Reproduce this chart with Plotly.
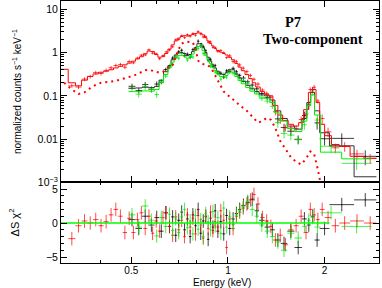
import math
import plotly.graph_objects as go

# ---------------- data ----------------
# EPIC-pn (red)
pn_edges = [0.300, 0.318, 0.335, 0.350, 0.365, 0.380, 0.395, 0.410, 0.425, 0.440, 0.455, 0.470, 0.485, 0.500,
            0.515, 0.530, 0.545, 0.560, 0.575, 0.590, 0.605, 0.620, 0.635, 0.650, 0.665, 0.680, 0.695, 0.710,
            0.725, 0.740, 0.755, 0.770, 0.785, 0.800, 0.815, 0.830, 0.845, 0.860, 0.875, 0.890, 0.905, 0.920,
            0.940, 0.960, 0.980, 1.000, 1.025, 1.050, 1.075, 1.100, 1.130, 1.160, 1.190, 1.220, 1.260, 1.300,
            1.340, 1.380, 1.430, 1.480, 1.540, 1.600, 1.660, 1.720, 1.780, 1.830, 1.880, 1.930, 2.000, 2.100,
            2.220, 2.400, 2.650, 2.900]
pn_model = [0.41, 0.20, 0.17, 0.23, 0.28, 0.32, 0.35, 0.37, 0.40, 0.44,
            0.48, 0.52, 0.57, 0.63, 0.71, 0.80, 0.94, 1.08, 1.06, 0.90,
            0.78, 0.80, 0.95, 1.20, 1.50, 1.85, 2.15, 2.35, 2.45, 2.40,
            2.50, 2.60, 2.75, 2.85, 2.80, 2.55, 2.20, 1.85, 1.62, 1.42,
            1.25, 1.12, 1.02, 0.95, 0.88, 0.78, 0.68, 0.56, 0.46, 0.38,
            0.31, 0.25, 0.20, 0.16, 0.125, 0.108, 0.100, 0.060, 0.036, 0.027,
            0.022, 0.020, 0.024, 0.048, 0.120, 0.140, 0.070, 0.022, 0.012, 0.0075,
            0.0068, 0.0040, 0.0036]
pn_comp = [0.20, 0.14, 0.11, 0.12, 0.15, 0.18, 0.20, 0.205, 0.21, 0.22,
           0.24, 0.255, 0.27, 0.29, 0.32, 0.36, 0.39, 0.40, 0.38, 0.36,
           0.34, 0.36, 0.40, 0.50, 0.52, 0.80, 1.20, 1.60, 1.75, 1.78,
           1.75, 1.70, 1.20, 0.65, 0.56, 0.55, 0.52, 0.50, 0.45, 0.37,
           0.29, 0.22, 0.16, 0.125, 0.11, 0.095, 0.08, 0.07, 0.06, 0.052,
           0.045, 0.037, 0.030, 0.024, 0.026, 0.031, 0.028, 0.018, 0.009, 0.0058,
           0.0038, 0.0030, 0.0026, 0.0035, 0.0052, 0.0045, 0.0020, 0.0006, None, None,
           None, None, None]
pn_data = [None, 0.170, 0.159, 0.243, 0.28, 0.343, 0.328, 0.387, 0.444, 0.502,
           0.528, 0.459, 0.618, 0.578, 0.746, 0.869, 0.881, 1.156, 0.969, 0.934,
           0.72, 0.85, 1.032, 1.14, 1.359, 1.972, 2.0, 2.453, 2.208, 2.585,
           2.365, 2.753, 2.506, 3.058, 2.693, 2.285, 2.345, 1.734, 1.764, 1.316,
           1.289, 1.06, 1.116, 0.992, 0.763, 0.84, 0.619, 0.616, 0.518, 0.436,
           0.362, 0.296, 0.241, 0.187, 0.136, 0.114, 0.093, 0.0429, 0.0273, 0.0183,
           0.018, 0.0177, 0.0283, 0.0378, 0.140, 0.158, 0.076, 0.0298, 0.0147, 0.0063,
           0.0068, 0.00455, 0.0036]
pn_relerr = [None, 0.10, 0.10, 0.10, 0.10, 0.10, 0.10, 0.10, 0.10, 0.10,
             0.10, 0.10, 0.10, 0.07, 0.07, 0.07, 0.07, 0.07, 0.07, 0.07,
             0.07, 0.07, 0.07, 0.07, 0.07, 0.07, 0.07, 0.07, 0.07, 0.07,
             0.07, 0.07, 0.07, 0.07, 0.07, 0.07, 0.07, 0.07, 0.07, 0.07,
             0.07, 0.07, 0.07, 0.07, 0.07, 0.10, 0.10, 0.10, 0.10, 0.10,
             0.10, 0.10, 0.10, 0.10, 0.10, 0.10, 0.10, 0.18, 0.18, 0.18,
             0.18, 0.18, 0.18, 0.18, 0.12, 0.12, 0.12, 0.25, 0.25, 0.25,
             0.25, 0.25, 0.25]
pn_resid = [None, -2.3, -0.4, 0.3, 0.0, 0.5, -0.4, 0.2, 1.2, 2.0,
            1.0, -1.4, 0.7, -1.4, 0.5, 1.5, -0.8, 1.0, -1.5, 0.3,
            -1.2, 0.8, 1.5, -0.5, -1.8, 0.9, -1.0, 0.4, -2.0, 1.2,
            -0.6, 0.7, -1.6, 1.1, -0.3, -2.2, 0.9, -0.8, 1.6, -1.1,
            0.2, -0.6, 1.8, 0.4, -3.6, 0.6, -0.8, 1.0, 1.6, 2.2,
            2.8, 3.4, 4.2, 2.8, 0.8, 0.3, -0.5, -2.5, -1.8, -3.2,
            -1.0, -0.4, 1.0, -1.4, 2.0, 1.2, 0.5, 2.0, 0.8, -0.4,
            0.0, 0.3, 0.0]

# MOS1 (black)
mos1_edges = [0.490, 0.515, 0.540, 0.565, 0.590, 0.610, 0.630, 0.650, 0.665, 0.680, 0.695, 0.710, 0.725,
              0.740, 0.755, 0.770, 0.785, 0.800, 0.815, 0.830, 0.845, 0.860, 0.875, 0.890, 0.905, 0.920,
              0.940, 0.960, 0.980, 1.000, 1.025, 1.050, 1.075, 1.100, 1.135, 1.170, 1.210, 1.250, 1.300,
              1.350, 1.400, 1.460, 1.530, 1.610, 1.700, 1.760, 1.810, 1.860, 1.930, 2.070, 2.470, 2.900]
mos1_model = [0.150, 0.152, 0.158, 0.155, 0.165, 0.23, 0.36, 0.50, 0.68, 0.88,
              0.98, 1.00, 0.95, 0.85, 0.90, 1.05, 1.30, 1.60, 1.62, 1.30,
              1.00, 0.78, 0.64, 0.52, 0.44, 0.37, 0.32, 0.31, 0.34, 0.40,
              0.40, 0.32, 0.26, 0.215, 0.175, 0.145, 0.125, 0.105, 0.100, 0.080,
              0.045, 0.030, 0.020, 0.017, 0.030, 0.070, 0.120, 0.045, 0.014, 0.0070,
              0.00135]
mos1_data = [0.166, 0.132, 0.182, 0.142, 0.187, 0.205, 0.404, 0.465, 0.745, 0.762,
             1.042, 1.126, 0.855, 0.915, 0.773, 1.165, 1.218, 1.826, 1.422, 1.371,
             1.10, 0.659, 0.694, 0.48, 0.499, 0.329, 0.334, 0.271, 0.376, 0.364,
             0.431, 0.358, 0.297, 0.257, 0.211, 0.177, 0.145, 0.113, 0.0907, 0.0704,
             0.0293, 0.0186, 0.0152, 0.0099, 0.0351, 0.0616, 0.138, 0.0237, 0.0102, 0.0104,
             0.0040]
mos1_relerr = [0.15, 0.15, 0.15, 0.15, 0.15, 0.10, 0.10, 0.10, 0.10, 0.10,
               0.10, 0.10, 0.10, 0.10, 0.10, 0.10, 0.10, 0.10, 0.10, 0.10,
               0.10, 0.10, 0.10, 0.10, 0.10, 0.10, 0.10, 0.10, 0.10, 0.10,
               0.10, 0.10, 0.10, 0.12, 0.12, 0.12, 0.12, 0.12, 0.12, 0.12,
               0.22, 0.22, 0.22, 0.22, 0.22, 0.22, 0.15, 0.30, 0.30, 0.30,
               0.375]
mos1_resid = [0.5, -0.8, 1.0, -0.3, 0.8, -1.2, 1.5, -0.5, 0.9, -1.8,
              0.4, 1.6, -1.0, 0.6, -2.0, 1.2, -0.4, 2.0, -1.5, 0.3,
              1.0, -2.4, 0.7, -0.6, 1.8, -1.2, 0.2, -1.6, 1.1, -0.8,
              0.6, 1.4, 2.0, 2.6, 3.0, 3.5, 1.8, 0.4, -0.6, -1.0,
              -2.5, -3.0, -1.2, -3.6, 0.6, -0.3, 1.0, -2.5, -0.8, 2.7,
              3.4]

# MOS2 (green)
mos2_edges = [0.490, 0.515, 0.540, 0.565, 0.590, 0.610, 0.630, 0.650, 0.665, 0.680, 0.695, 0.710, 0.725,
              0.740, 0.755, 0.770, 0.785, 0.800, 0.815, 0.830, 0.845, 0.860, 0.875, 0.890, 0.905, 0.920,
              0.940, 0.960, 0.980, 1.000, 1.025, 1.050, 1.075, 1.100, 1.135, 1.170, 1.210, 1.250, 1.300,
              1.350, 1.400, 1.460, 1.530, 1.610, 1.700, 1.760, 1.810, 1.860, 1.940, 2.260, 2.800]
mos2_model = [0.125, 0.125, 0.130, 0.128, 0.140, 0.20, 0.31, 0.44, 0.60, 0.76,
              0.85, 0.86, 0.82, 0.74, 0.78, 0.92, 1.12, 1.38, 1.40, 1.12,
              0.86, 0.67, 0.55, 0.45, 0.38, 0.32, 0.28, 0.27, 0.295, 0.35,
              0.35, 0.28, 0.225, 0.19, 0.155, 0.128, 0.11, 0.093, 0.088, 0.070,
              0.040, 0.026, 0.0175, 0.015, 0.026, 0.060, 0.105, 0.036, 0.0050, 0.0035]
mos2_data = [0.148, 0.109, 0.165, 0.142, 0.107, 0.22, 0.286, 0.495, 0.531, 0.825,
             0.739, 0.95, 0.947, 0.672, 0.827, 0.792, 1.249, 1.236, 1.509, 0.946,
             0.972, 0.703, 0.49, 0.514, 0.353, 0.351, 0.242, 0.314, 0.27, 0.386,
             0.333, 0.314, 0.258, 0.228, 0.191, 0.152, 0.124, 0.0864, 0.0754, 0.0571,
             0.024, 0.0135, 0.0124, 0.00966, 0.0216, 0.0691, 0.12, 0.0276, 0.00684, 0.00276]
mos2_relerr = [0.17, 0.17, 0.17, 0.17, 0.17, 0.11, 0.11, 0.11, 0.11, 0.11,
               0.11, 0.11, 0.11, 0.11, 0.11, 0.11, 0.11, 0.11, 0.11, 0.11,
               0.11, 0.11, 0.11, 0.11, 0.11, 0.11, 0.11, 0.11, 0.11, 0.11,
               0.11, 0.11, 0.11, 0.13, 0.13, 0.13, 0.13, 0.13, 0.13, 0.13,
               0.24, 0.24, 0.24, 0.24, 0.24, 0.24, 0.16, 0.30, 0.30, 0.30]
mos2_resid = [1.2, -0.6, 2.5, 0.4, -1.9, 0.8, -0.5, 1.3, -1.1, 0.6,
              -1.4, 0.9, 2.0, -0.7, 0.3, -1.6, 1.1, -0.9, 0.5, -2.0,
              1.4, 0.2, -1.0, 1.7, -0.4, 0.8, -1.5, 2.2, -0.6, 0.9,
              -0.2, 1.2, 1.8, 2.4, 3.2, 2.0, 1.0, -0.3, -1.2, -2.0,
              -2.8, -4.0, -1.5, -2.2, -0.5, 0.4, 0.8, -0.6, 1.5, -0.5]

zero_line_range = [0.30, 2.07]

# tick labels
x_tickvals = [0.5, 1, 2]
x_ticktext = ["0.5", "1", "2"]
x_minor = [0.3, 0.4, 0.6, 0.7, 0.8, 0.9, 3]
y_tickvals = [0.001, 0.01, 0.1, 1, 10]
y_ticktext = ["10<sup>\u22123</sup>", "0.01", "0.1", "1", "10"]
y_minor = [m * d for d in (0.001, 0.01, 0.1, 1) for m in (2, 3, 4, 5, 6, 7, 8, 9)]
r_tickvals = [-5, 0, 5]
r_ticktext = ["\u22125", "0", "5"]
r_minor = [-4, -3, -2, -1, 1, 2, 3, 4]

# ---------------- helpers ----------------
def centers(edges):
    return [math.sqrt(a * b) for a, b in zip(edges[:-1], edges[1:])]

def xerr(edges):
    c = centers(edges)
    plus = [b - m for b, m in zip(edges[1:], c)]
    minus = [m - a for a, m in zip(edges[:-1], c)]
    return plus, minus

def abserr(data, rel):
    return [None if (d is None or r is None) else d * r for d, r in zip(data, rel)]

fig = go.Figure()

sets = [
    ("MOS1", mos1_edges, mos1_model, mos1_data, mos1_relerr, mos1_resid, "rgba(0,0,0,0.75)", "#333333"),
    ("pn", pn_edges, pn_model, pn_data, pn_relerr, pn_resid, "rgba(255,0,0,0.7)", "#ff0000"),
    ("MOS2", mos2_edges, mos2_model, mos2_data, mos2_relerr, mos2_resid, "rgba(0,230,0,0.7)", "#00ee00"),
]

for name, edges, model, data, rel, resid, ecol, mcol in sets:
    c = centers(edges)
    xp, xm = xerr(edges)
    fig.add_trace(go.Scatter(
        x=c, y=data, mode="markers", marker=dict(size=1, color=ecol),
        error_x=dict(type="data", array=xp, arrayminus=xm, symmetric=False, width=0, thickness=1, color=ecol),
        error_y=dict(type="data", array=abserr(data, rel), width=0, thickness=1, color=ecol),
        xaxis="x2", yaxis="y2", showlegend=False, name=name))
    fig.add_trace(go.Scatter(
        x=c, y=resid, mode="markers", marker=dict(size=1, color=ecol),
        error_x=dict(type="data", array=xp, arrayminus=xm, symmetric=False, width=0, thickness=1, color=ecol),
        error_y=dict(type="constant", value=1, width=0, thickness=1, color=ecol),
        xaxis="x", yaxis="y", showlegend=False, name=name))

for name, edges, model, data, rel, resid, ecol, mcol in sets:
    fig.add_trace(go.Scatter(
        x=edges, y=model + [model[-1]], mode="lines", line=dict(shape="hv", color=mcol, width=1),
        xaxis="x2", yaxis="y2", showlegend=False, name=name + " model"))

fig.add_trace(go.Scatter(
    x=centers(pn_edges), y=pn_comp, mode="lines", line=dict(color="#ff0000", width=2, dash="2px,4px"),
    connectgaps=False, xaxis="x2", yaxis="y2", showlegend=False, name="pn component"))

fig.add_trace(go.Scatter(
    x=zero_line_range, y=[0, 0], mode="lines", line=dict(color="#00ff00", width=1.5),
    xaxis="x", yaxis="y", showlegend=False))

xr = [math.log10(0.302), math.log10(2.953)]
axis_common = dict(showline=True, linecolor="black", linewidth=1, mirror="ticks", ticks="inside",
                   tickcolor="black", showgrid=False, zeroline=False)
fontfam = "Liberation Sans, Arial, sans-serif"
split = 0.3076

fig.update_layout(
    width=382, height=288,
    margin=dict(l=61, r=2.5, t=1, b=25, pad=0),
    paper_bgcolor="white", plot_bgcolor="white",
    font=dict(family=fontfam, size=10.5, color="black"),
    xaxis=dict(type="log", range=xr, domain=[0, 1], anchor="y",
               tickmode="array", tickvals=x_tickvals, ticktext=x_ticktext, ticklen=6,
               ticklabelstandoff=-2,
               minor=dict(tickmode="array", tickvals=x_minor, ticks="inside", ticklen=3, tickcolor="black"),
               tickfont=dict(size=10), **axis_common),
    xaxis2=dict(type="log", range=xr, domain=[0, 1], anchor="y2", matches="x", showticklabels=False,
                tickmode="array", tickvals=x_tickvals, ticklen=6,
                minor=dict(tickmode="array", tickvals=x_minor, ticks="inside", ticklen=3, tickcolor="black"),
                **axis_common),
    yaxis=dict(domain=[0, split], range=[-5.88, 5.97], anchor="x",
               tickmode="array", tickvals=r_tickvals, ticktext=r_ticktext, ticklen=6,
               minor=dict(tickmode="array", tickvals=r_minor, ticks="inside", ticklen=3, tickcolor="black"),
               tickfont=dict(size=10.5), **axis_common),
    yaxis2=dict(type="log", domain=[split, 1], range=[-3, 1.19], anchor="x2",
                tickmode="array", tickvals=y_tickvals, ticktext=y_ticktext, ticklen=6,
                minor=dict(tickmode="array", tickvals=y_minor, ticks="inside", ticklen=3, tickcolor="black"),
                tickfont=dict(size=10.5), **axis_common),
    annotations=[
        dict(text="normalized counts s<sup>\u22121</sup> keV<sup>\u22121</sup>", xref="paper", yref="paper",
             x=-0.138, y=0.653, textangle=-90, showarrow=False, xanchor="center", yanchor="middle",
             font=dict(size=10, family=fontfam)),
        dict(text="\u0394S \u03c7<sup>2</sup>", xref="paper", yref="paper",
             x=-0.147, y=0.156, textangle=-90, showarrow=False, xanchor="center", yanchor="middle",
             font=dict(size=11, family=fontfam)),
        dict(text="Energy (keV)", xref="paper", yref="paper", x=0.505, y=-0.074,
             showarrow=False, xanchor="center", yanchor="middle", font=dict(size=10, family=fontfam)),
        dict(text="<b>P7</b>", xref="paper", yref="paper", x=0.728, y=0.920,
             showarrow=False, xanchor="center", yanchor="middle",
             font=dict(size=14.5, family="Liberation Serif, Times New Roman, serif")),
        dict(text="<b>Two-component</b>", xref="paper", yref="paper", x=0.794, y=0.855,
             showarrow=False, xanchor="center", yanchor="middle",
             font=dict(size=14.5, family="Liberation Serif, Times New Roman, serif")),
    ],
)

fig.write_html("out.html", config={"displayModeBar": False},
               post_script="document.body.style.margin='0px';document.body.style.overflow='hidden';")
